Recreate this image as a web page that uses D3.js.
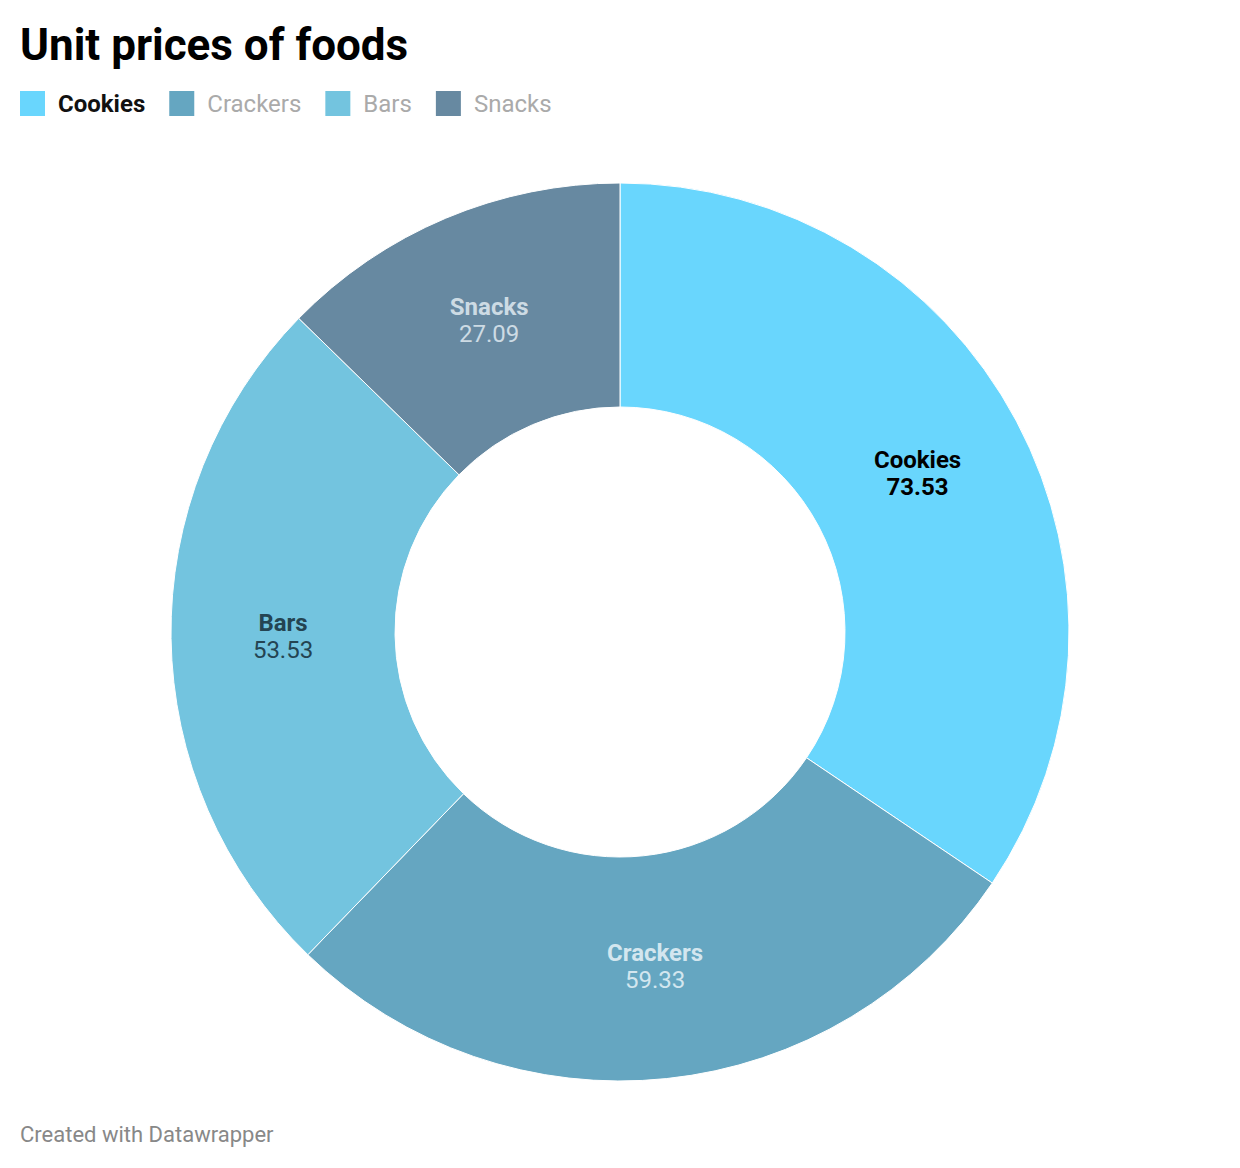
<!DOCTYPE html>
<html><head><meta charset="utf-8">
<script src="https://cdn.jsdelivr.net/npm/d3@7"></script>
<style>
body{margin:0;background:#fff;font-family:Roboto,"Noto Sans",sans-serif;}
</style></head>
<body><svg id="c" width="1240" height="1168"></svg>
<script>
const categories = ["Cookies","Crackers","Bars","Snacks"];
const values = [73.53,59.33,53.53,27.09];
const colors = ["#69d6fd","#65a6c1","#73c4df","#6789a1"];
const labelColors = ["#000000","#d3e6ef","#244452","#cddbe4"];
const legendTextColors = ["#111111","#aaaaaa","#aaaaaa","#aaaaaa"];
const legendWeights = ["700","400","400","400"];

const svg = d3.select("#c");
svg.append("text").attr("x",20).attr("y",60).attr("font-size",44).attr("font-weight",700)
  .attr("fill","#000").text("Unit prices of foods");

// legend
const leg = svg.append("g");
let lx = 20;
categories.forEach((c,i)=>{
  const g = leg.append("g").attr("transform",`translate(${lx},0)`);
  g.append("rect").attr("x",0).attr("y",91).attr("width",25).attr("height",25).attr("fill",colors[i]);
  const t = g.append("text").attr("x",38).attr("y",112).attr("font-size",24)
    .attr("font-weight",legendWeights[i]).attr("fill",legendTextColors[i]).text(c);
  lx += 38 + t.node().getComputedTextLength() + 24;
});

const cx=620, cy=632, R=449, r=225;
const data = categories.map((c,i)=>({c,v:values[i],i}));
const pie = d3.pie().sort(null).value(d=>d.v);
const arc = d3.arc().innerRadius(r).outerRadius(R);
const g = svg.append("g").attr("transform",`translate(${cx},${cy})`);
const arcs = pie(data);
g.selectAll("path").data(arcs).join("path").attr("d",arc)
  .attr("fill",d=>colors[d.data.i]).attr("stroke","#fff").attr("stroke-width",1);

const lab = g.selectAll("g.l").data(arcs).join("g").attr("class","l")
  .attr("transform",d=>`translate(${arc.centroid(d)})`);
lab.append("text").attr("text-anchor","middle").attr("y",-6).attr("font-size",24).attr("font-weight",700)
  .attr("fill",d=>labelColors[d.data.i]).text(d=>d.data.c);
lab.append("text").attr("text-anchor","middle").attr("y",21).attr("font-size",24)
  .attr("font-weight",d=>d.data.i===0?700:400)
  .attr("fill",d=>labelColors[d.data.i]).text(d=>d3.format(".2f")(d.data.v));

svg.append("text").attr("x",20).attr("y",1142).attr("font-size",22).attr("fill","#888")
  .text("Created with Datawrapper");
</script></body></html>
